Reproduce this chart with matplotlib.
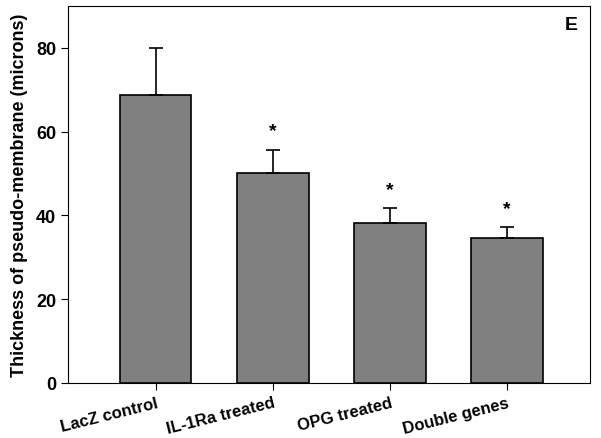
import numpy as np
import matplotlib.pyplot as plt

plt.rcParams['font.family'] = ['Liberation Sans', 'DejaVu Sans']

groups = ["LacZ control", "IL-1Ra treated", "OPG treated", "Double genes"]
means = [68.7, 50.2, 38.3, 34.5]
errs = [11.3, 5.5, 3.4, 2.7]
signif = [False, True, True, True]

fig = plt.figure(figsize=(6.01, 4.39), dpi=100)
ax = fig.add_axes([68/601, 1 - 384/439, 522/601, 377/439])

x = np.arange(len(groups))
ax.bar(x, means, width=0.61, color="#808080", edgecolor="black", linewidth=1.2)
ax.errorbar(x, means, yerr=[np.zeros(len(errs)), errs], fmt="none",
            ecolor="black", elinewidth=1.2, capsize=5, capthick=1.2)

for xi, m, e, s in zip(x, means, errs, signif):
    if s:
        ax.text(xi, m + e + 4.5, "*", ha="center", va="center",
                fontsize=14, fontweight="bold")

ax.text(3.55, 85.5, "E", ha="center", va="center", fontsize=14, fontweight="bold")

ax.set_xlim(-0.75, 3.71)
ax.set_ylim(0, 90)
ax.set_yticks([0, 20, 40, 60, 80])
ax.set_xticks(x)
ax.set_xticklabels(groups, rotation=14, ha="right", rotation_mode="anchor",
                   fontsize=12, fontweight="bold")
ax.tick_params(axis="y", labelsize=13, direction="out", length=5)
ax.tick_params(axis="x", direction="out", length=5)
for lab in ax.get_yticklabels():
    lab.set_fontweight("bold")
ax.set_ylabel("Thickness of pseudo-membrane (microns)", fontsize=13,
              fontweight="bold", labelpad=6)

fig.savefig("out.png", dpi=100)
